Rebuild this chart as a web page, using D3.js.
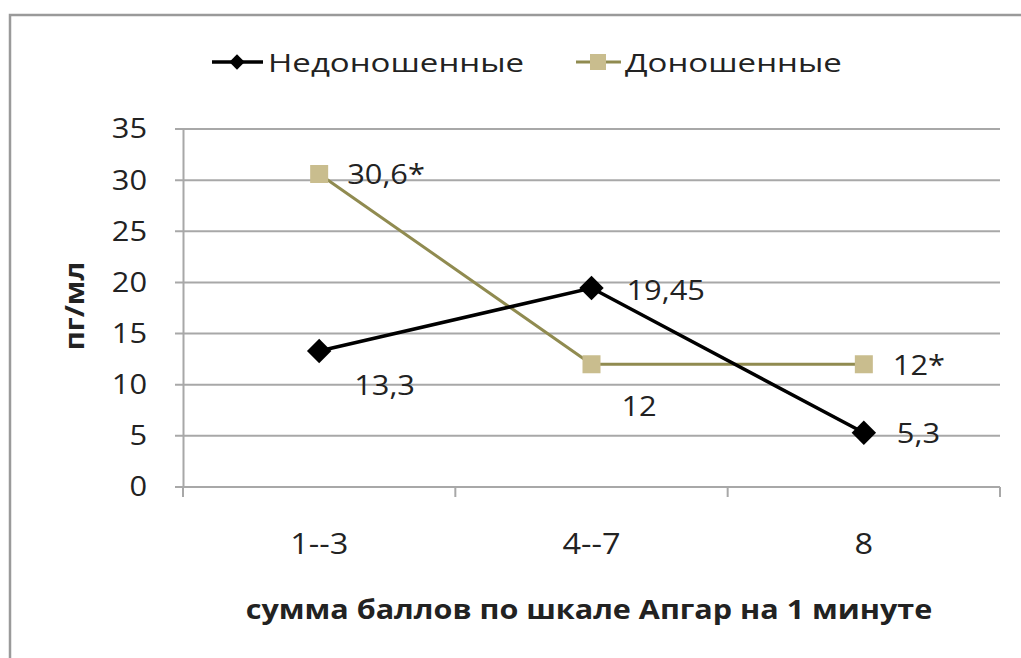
<!DOCTYPE html>
<html><head><meta charset="utf-8">
<script src="https://cdn.jsdelivr.net/npm/d3@7"></script>
<style>body{margin:0;background:#fff}svg{display:block}text{font-family:"Open Sans",sans-serif;fill:#222}</style>
</head><body>
<script>
const categories = ["1--3", "4--7", "8"];
const seriesNames = ["Недоношенные", "Доношенные"];
const pretermValues = [13.3, 19.45, 5.3];
const termValues = [30.6, 12, 12];
const pretermLabels = ["13,3", "19,45", "5,3"];
const termLabels = ["30,6*", "12", "12*"];
const yTicks = [0, 5, 10, 15, 20, 25, 30, 35];

const W = 1021, H = 658;
const svg = d3.select("body").append("svg").attr("width", W).attr("height", H);

function stretch(sel, k) {
  sel.each(function() {
    const len = this.getComputedTextLength();
    d3.select(this).attr("textLength", len * k).attr("lengthAdjust", "spacingAndGlyphs");
  });
}

// outer frame
svg.append("path").attr("d", `M10,${H} L10,15 L${W},15`).attr("fill","none").attr("stroke","#9a9a9a").attr("stroke-width",2.5);

const pLeft = 183, pRight = 1000, pTop = 129, pBottom = 487;
const x = d3.scaleBand().domain(categories).range([pLeft, pRight]);
const y = d3.scaleLinear().domain([0, 35]).range([pBottom, pTop]);
const cx = d => x(d) + x.bandwidth()/2;

// gridlines
svg.append("g").selectAll("line").data(yTicks).join("line")
  .attr("x1", pLeft - 8).attr("x2", pRight).attr("y1", d => y(d)).attr("y2", d => y(d))
  .attr("stroke", "#a8a8a8").attr("stroke-width", 2);

// y axis
const yAxis = svg.append("g").attr("transform", `translate(${pLeft},0)`)
  .call(d3.axisLeft(y).tickValues(yTicks).tickSize(0).tickPadding(36));
yAxis.select(".domain").attr("stroke","#a8a8a8").attr("stroke-width",2);
yAxis.selectAll("text").attr("font-size", 28).attr("fill","#222").style("font-family",'"Open Sans",sans-serif');
stretch(yAxis.selectAll("text"), 1.1);

// x axis ticks
const xAxis = svg.append("g").attr("transform", `translate(0,${pBottom})`)
  .call(d3.axisBottom(x).tickSize(0).tickPadding(46));
xAxis.select(".domain").remove();
xAxis.selectAll("text").attr("font-size", 29).attr("fill","#222").style("font-family",'"Open Sans",sans-serif');
stretch(xAxis.selectAll("text"), 1.12);
svg.append("g").selectAll("line").data([pLeft, ...categories.map(c => x(c) + x.bandwidth())]).join("line")
  .attr("x1", d => d).attr("x2", d => d).attr("y1", pBottom).attr("y2", pBottom + 10)
  .attr("stroke", "#a8a8a8").attr("stroke-width", 2);

// axis titles
const xt = svg.append("text").attr("x", 589).attr("y", 619).attr("text-anchor","middle")
  .attr("font-size", 27.5).attr("font-weight","bold").text("сумма баллов  по шкале Апгар на 1 минуте");
stretch(xt, 1.11);
const yt = svg.append("text").attr("transform", "translate(84,306) rotate(-90)").attr("text-anchor","middle")
  .attr("font-size", 27).attr("font-weight","bold").text("пг/мл");
stretch(yt, 1.08);

const line = d3.line().x((d,i) => cx(categories[i])).y(d => y(d));
const termLine = "#908b50", termFill = "#c9bd8e";

// term series
svg.append("path").datum(termValues).attr("d", line).attr("fill","none").attr("stroke", termLine).attr("stroke-width", 3);
svg.append("g").selectAll("rect").data(termValues).join("rect")
  .attr("x", (d,i) => cx(categories[i]) - 9).attr("y", d => y(d) - 9).attr("width", 18).attr("height", 18)
  .attr("fill", termFill);

// preterm series
svg.append("path").datum(pretermValues).attr("d", line).attr("fill","none").attr("stroke", "#000").attr("stroke-width", 3.5);
const diamond = d3.symbol().type(d3.symbolDiamond2).size(380);
svg.append("g").selectAll("path").data(pretermValues).join("path")
  .attr("transform", (d,i) => `translate(${cx(categories[i])},${y(d)})`)
  .attr("d", diamond).attr("fill", "#000");

// data labels
const lblFs = 28;
const termOffsets = [[28, 10], [30, 52], [29, 11]];
const pretermOffsets = [[35, 44], [35, 12], [33, 10]];
const tl = svg.append("g").selectAll("text").data(termValues).join("text")
  .attr("x", (d,i) => cx(categories[i]) + termOffsets[i][0]).attr("y", (d,i) => y(d) + termOffsets[i][1])
  .attr("font-size", lblFs).text((d,i) => termLabels[i]);
const pl = svg.append("g").selectAll("text").data(pretermValues).join("text")
  .attr("x", (d,i) => cx(categories[i]) + pretermOffsets[i][0]).attr("y", (d,i) => y(d) + pretermOffsets[i][1])
  .attr("font-size", lblFs).text((d,i) => pretermLabels[i]);
stretch(tl, 1.1);
stretch(pl, 1.1);

// legend
const lg = svg.append("g");
lg.append("line").attr("x1", 212).attr("x2", 263).attr("y1", 62).attr("y2", 62).attr("stroke","#000").attr("stroke-width",3.5);
lg.append("path").attr("transform","translate(237,62)").attr("d", d3.symbol().type(d3.symbolDiamond2).size(150)).attr("fill","#000");
const l1 = lg.append("text").attr("x", 268).attr("y", 72).attr("font-size", 26).text(seriesNames[0]);
lg.append("line").attr("x1", 576).attr("x2", 621).attr("y1", 62).attr("y2", 62).attr("stroke", termLine).attr("stroke-width",3);
lg.append("rect").attr("x", 590).attr("y", 54).attr("width", 16).attr("height", 16).attr("fill", termFill);
const l2 = lg.append("text").attr("x", 625).attr("y", 72).attr("font-size", 26).text(seriesNames[1]);
stretch(l1, 1.27);
stretch(l2, 1.27);
</script>
</body></html>
